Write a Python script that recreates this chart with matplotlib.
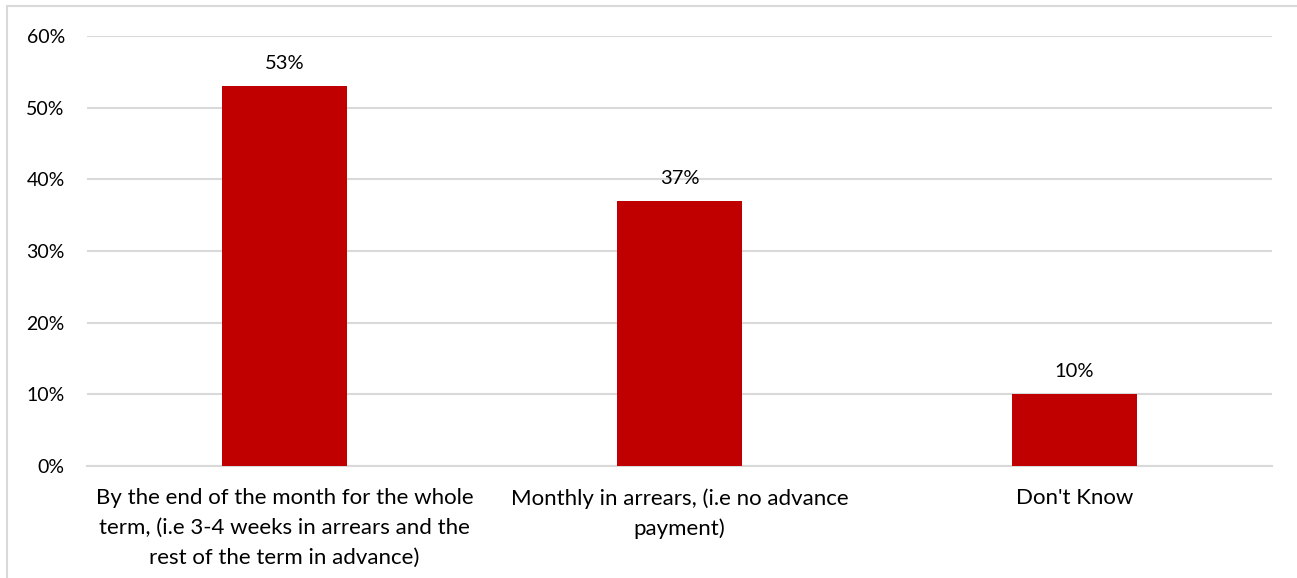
import matplotlib
matplotlib.use("Agg")
import matplotlib.pyplot as plt
from matplotlib.patches import Rectangle
from matplotlib.ticker import FuncFormatter

categories = [
    "By the end of the month for the whole\nterm, (i.e 3-4 weeks in arrears and the\nrest of the term in advance)",
    "Monthly in arrears, (i.e no advance\npayment)",
    "Don't Know",
]
shares = [53, 37, 10]
y_ticks = [0, 10, 20, 30, 40, 50, 60]

bar_color = "#C00000"
grid_color = "#D9D9D9"
plt.rcParams["font.family"] = ["Lato", "DejaVu Sans"]

fig = plt.figure(figsize=(12.97, 5.78), dpi=100)
ax = fig.add_axes([87 / 1297, 1 - 466 / 578, 1185 / 1297, 430 / 578])

# outer chart frame (left and top edges visible)
fig.patches.append(Rectangle((7 / 1297, -0.1), 1.2, 1 - 6 / 578 + 0.1,
                             transform=fig.transFigure, fill=False,
                             edgecolor=grid_color, linewidth=1.5, zorder=0))

x = range(len(categories))
bars = ax.bar(x, shares, width=0.314, color=bar_color, zorder=3)
for xi, v in zip(x, shares):
    ax.text(xi, v + 2.0, f"{v}%", ha="center", va="bottom", fontsize=14.5, color="#000000")

ax.set_xlim(-0.5, len(categories) - 0.5)
ax.set_ylim(0, 60)
ax.set_yticks(y_ticks)
ax.yaxis.set_major_formatter(FuncFormatter(lambda v, _: f"{v:.0f}%"))
ax.set_xticks(list(x))
ax.set_xticklabels(categories, fontsize=16, linespacing=1.6)
ax.tick_params(axis="y", labelsize=14, length=0, pad=16)
ax.tick_params(axis="x", length=0, pad=16)

ax.grid(axis="y", color=grid_color, linewidth=1.5, zorder=0)
for s in ["top", "right", "left"]:
    ax.spines[s].set_visible(False)
ax.spines["bottom"].set_color(grid_color)
ax.spines["bottom"].set_linewidth(1.5)

fig.savefig("out.png", dpi=100)
